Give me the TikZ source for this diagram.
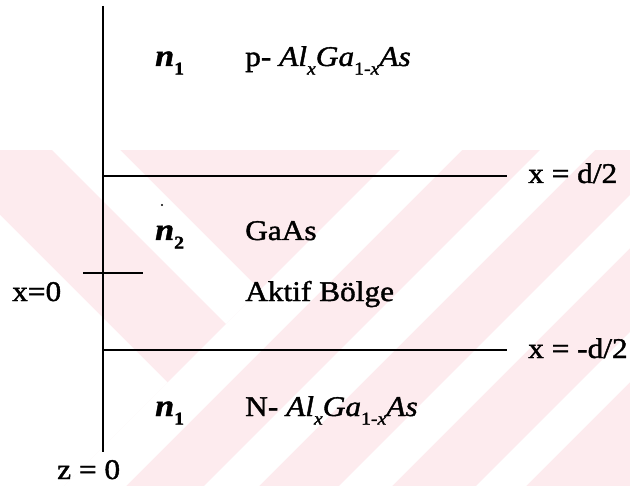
\documentclass[tikz,border=0pt]{standalone}
\usepackage{fontspec}
\setmainfont{Liberation Serif}[FakeStretch=1.1,FakeBold=1.4]
\newcommand\lowsub[1]{\raisebox{-0.3em}{\fontsize{18bp}{18bp}\selectfont #1}}
\newcommand\refn[1]{{\fontsize{31bp}{34bp}\selectfont\textbf{\textit{n}}}\lowsub{\textbf{#1}}}
\definecolor{wmpink}{HTML}{FDEBEE}
\tikzset{
  lbl/.style={anchor=base west, inner sep=0pt, font=\fontsize{28.5bp}{32bp}\selectfont},
  axis/.style={line width=2.4bp, black},
  layer/.style={line width=2.2bp, black},
  stripe/.style={fill=white, draw=none}
}
\begin{document}
\begin{tikzpicture}[x=1bp,y=-1bp]
\useasboundingbox (0,0) rectangle (630,486);
% watermark
\begin{scope}
\clip (0,150) rectangle (630,486);
\fill[wmpink] (0,150) rectangle (630,486);
% V-shaped white band
\fill[stripe] (52,150) -- (120,150) -- (260,290) -- (226,324) -- cycle;
\fill[stripe] (400,150) -- (462,150) -- (126,486) -- (64,486) -- cycle;
% lower-left white region
\fill[stripe] (0,215) -- (167.5,382.5) -- (64,486) -- (0,486) -- cycle;
% parallel white bands on the right
\foreach \ca/\cb in {690/745, 825/878, 962/1012} {
  \fill[stripe] (\ca-150,150) -- (\cb-150,150) -- (\cb-486,486) -- (\ca-486,486) -- cycle;
}
\end{scope}
% coordinates
\coordinate (vtop) at (103,6);
\coordinate (vbot) at (103,452);
\coordinate (l1a) at (103,176);
\coordinate (l1b) at (507,176);
\coordinate (l2a) at (103,350);
\coordinate (l2b) at (507,350);
\coordinate (ta) at (83,273);
\coordinate (tb) at (143,273);
% lines
\draw[axis] (vtop) -- (vbot);
\draw[layer] (l1a) -- (l1b);
\draw[layer] (l2a) -- (l2b);
\draw[layer] (ta) -- (tb);
% labels
\node[lbl] (n1t) at (155,66) {\refn{1}};
\node[lbl] (pl) at (245,66) {p- \textit{Al}\lowsub{\textit{x}}\textit{Ga}\lowsub{1-\textit{x}}\textit{As}};
\node[lbl] (xd) at (528,183) {x = d/2};
\node[lbl] (n2) at (155,240) {\refn{2}};
\fill (162,205) circle (1.2) node (dot) {};
\node[lbl] (gaas) at (245,240) {GaAs};
\node[lbl] (x0) at (12,301) {x=0};
\node[lbl] (akt) at (245,301) {Aktif Bölge};
\node[lbl] (xmd) at (528,358) {x = -d/2};
\node[lbl] (n1b) at (155,416) {\refn{1}};
\node[lbl] (nl) at (245,416) {N- \textit{Al}\lowsub{\textit{x}}\textit{Ga}\lowsub{1-\textit{x}}\textit{As}};
\node[lbl] (z0) at (57,479) {z = 0};
\end{tikzpicture}
\end{document}
